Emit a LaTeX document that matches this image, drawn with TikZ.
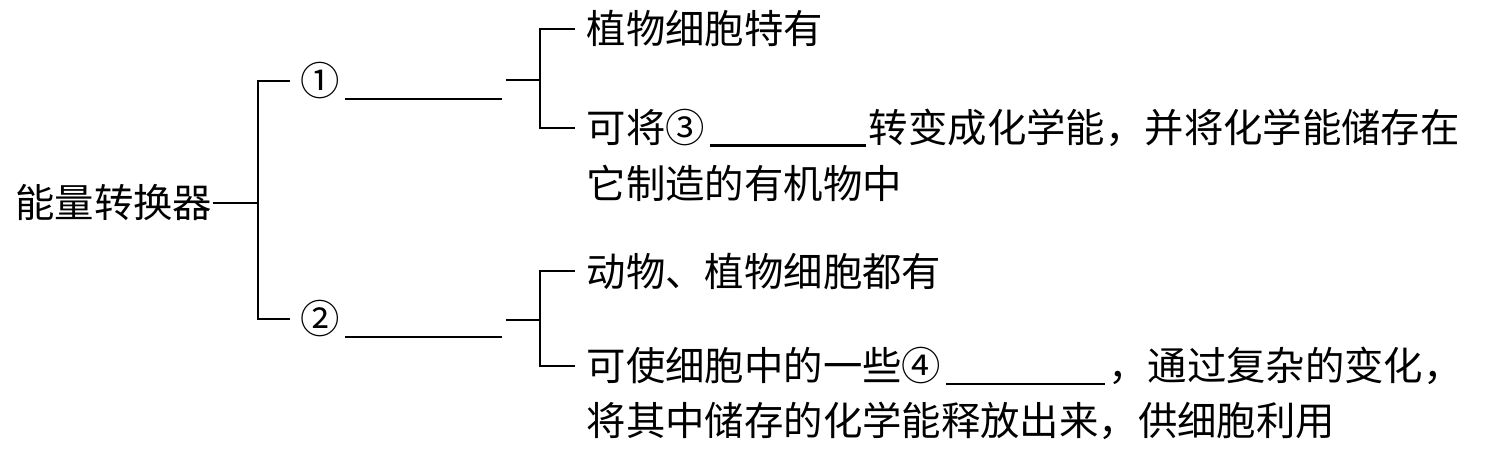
\documentclass[tikz,border=0pt]{standalone}
\usepackage{fontspec}
\newfontfamily\cjk{Noto Sans CJK SC}
\usepackage{tikz}
\newcommand{\blank}[1]{\hspace{0.05cm}\rule[-0.4mm]{#1}{0.6pt}\hspace{0.03cm}}

\begin{document}
\begin{tikzpicture}[x=0.01cm, y=-0.01cm,
    txt/.style={anchor=west, inner sep=0pt, font=\cjk\fontsize{11.2pt}{13pt}\selectfont},
    link/.style={line width=0.6pt}
]
    \useasboundingbox (0,0) rectangle (1499,449);

    % 左边主干
    \node[txt, anchor=east] (root) at (213,203) {能量转换器};
    \node[txt] (n1) at (300,81) {①\blank{1.57cm}};
    \node[txt] (n2) at (300,319) {②\blank{1.57cm}};

    % 右边说明
    \node[txt] (a1) at (586,29) {植物细胞特有};
    \node[txt] (a2) at (586,128) {可将③\blank{1.56cm}转变成化学能，并将化学能储存在};
    \node[txt] (a2x) at (586,183) {它制造的有机物中};
    \node[txt] (b1) at (586,271) {动物、植物细胞都有};
    \node[txt] (b2) at (586,366) {可使细胞中的一些④\blank{1.59cm}，通过复杂的变化，};
    \node[txt] (b2x) at (586,421) {将其中储存的化学能释放出来，供细胞利用};

    % 括线
    \coordinate (r) at (258,203);
    \coordinate (j1) at (540,80);
    \coordinate (j2) at (540,320);
    \draw[link] (root.east) -- (r);
    \draw[link] ([xshift=-0.1cm]n1.west) -| (r) |- ([xshift=-0.1cm]n2.west);
    \draw[link] (n1.east |- j1) ++(0.03cm,0) -- (j1);
    \draw[link] (n2.east |- j2) ++(0.03cm,0) -- (j2);
    \draw[link] ([xshift=-0.11cm]a1.west) -| (j1) |- ([xshift=-0.11cm]a2.west);
    \draw[link] ([xshift=-0.11cm]b1.west) -| (j2) |- ([xshift=-0.11cm]b2.west);
\end{tikzpicture}
\end{document}
